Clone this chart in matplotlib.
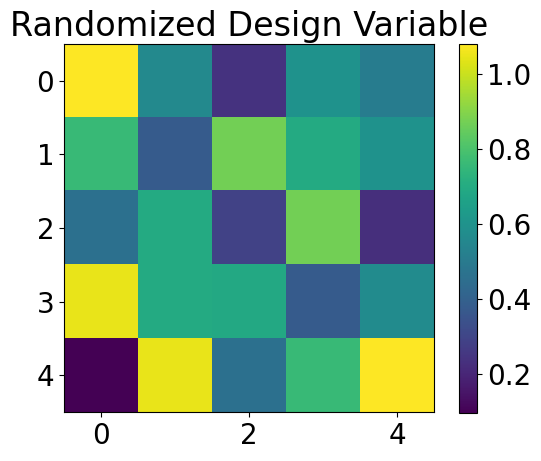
import numpy as np
import matplotlib
matplotlib.use('Agg')
import matplotlib.pyplot as plt

row0 = [1.081, 0.56, 0.24, 0.60, 0.51]
row1 = [0.76, 0.38, 0.87, 0.70, 0.60]
row2 = [0.46, 0.70, 0.29, 0.87, 0.23]
row3 = [1.05, 0.70, 0.69, 0.38, 0.57]
row4 = [0.096, 1.05, 0.46, 0.76, 1.081]

values = np.array([row0, row1, row2, row3, row4])

W, H = 541, 461
plt.rcParams['font.size'] = 20
fig = plt.figure(figsize=(W / 100, H / 100), dpi=100)
ax = fig.add_axes([64 / W, (H - 412) / H, 370 / W, 368 / H])
cax = fig.add_axes([459 / W, (H - 413) / H, 18 / W, 369 / H])
im = ax.imshow(values, cmap='viridis', aspect='auto')
ax.set_title('Randomized Design Variable', pad=6)
fig.colorbar(im, cax=cax)

plt.savefig('out.png')
